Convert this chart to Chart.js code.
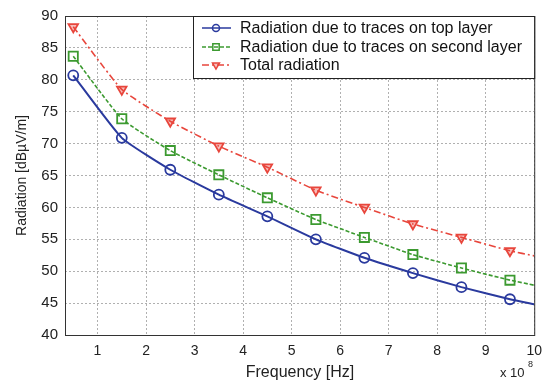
<!DOCTYPE html>
<html>
<head>
<meta charset="utf-8">
<script src="https://cdn.jsdelivr.net/npm/chart.js@4.4.1/dist/chart.umd.min.js"></script>
<style>
  html, body { margin: 0; padding: 0; background: #fff; }
  #wrap { width: 550px; height: 388px; position: relative; }
</style>
</head>
<body>
<div id="wrap"><canvas id="myChart"></canvas></div>
<script>
const ctx = document.getElementById('myChart');

// frequency in units of 1e8 Hz (markers at 0.5..9.5, line runs on to 10)
const freq = [0.5, 1.5, 2.5, 3.5, 4.5, 5.5, 6.5, 7.5, 8.5, 9.5, 10];
const topLayer = [80.7, 70.9, 65.9, 62.0, 58.6, 55.0, 52.1, 49.7, 47.5, 45.6, 44.8];
const secondLayer = [83.7, 73.9, 68.9, 65.1, 61.5, 58.1, 55.3, 52.6, 50.5, 48.6, 47.8];
const totalRad = [88.3, 78.5, 73.5, 69.6, 66.3, 62.7, 60.0, 57.4, 55.3, 53.2, 52.4];
const xTicks = [1, 2, 3, 4, 5, 6, 7, 8, 9, 10];
const seriesNames = [
    'Radiation due to traces on top layer',
    'Radiation due to traces on second layer',
    'Total radiation'
];

const toPts = vals => freq.map((f, i) => ({ x: f, y: vals[i] }));
const radii = r => freq.map(f => f === 10 ? 0 : r);

const FONT = '"Liberation Sans", Arial, sans-serif';

const frameAndLegend = {
    id: 'frameAndLegend',
    afterDraw(chart) {
        const c = chart.ctx;
        const a = chart.chartArea;
        c.save();
        // box round the plot
        c.strokeStyle = '#333';
        c.lineWidth = 1;
        c.strokeRect(a.left + 0.5, a.top + 0.5, a.right - a.left, a.bottom - a.top);

        // legend box, top right inside the plot
        const lx = 193, ly = a.top, lw = a.right - 193, lh = 62;
        c.fillStyle = '#fff';
        c.fillRect(lx, ly, lw, lh);
        c.strokeStyle = '#222';
        c.strokeRect(lx + 0.5, ly + 0.5, lw, lh);
        c.font = '16px ' + FONT;
        c.textBaseline = 'middle';
        const rows = [ly + 12, ly + 31, ly + 49];
        const sizes = [3.5, 4.5, 4];
        chart.data.datasets.forEach((ds, i) => {
            const y = rows[i];
            c.strokeStyle = ds.borderColor;
            c.fillStyle = ds.backgroundColor;
            c.lineWidth = 1.5;
            c.setLineDash(ds.borderDash || []);
            c.beginPath();
            c.moveTo(202, y);
            c.lineTo(231, y);
            c.stroke();
            c.setLineDash([]);
            Chart.helpers.drawPoint(c, {
                pointStyle: ds.pointStyle,
                rotation: ds.pointRotation || 0,
                radius: sizes[i],
                borderWidth: 1.5
            }, 216, y);
            c.fillStyle = '#111';
            c.fillText(seriesNames[i], 240, y + 1);
        });

        // axis titles
        c.fillStyle = '#222';
        c.font = '16px ' + FONT;
        c.textAlign = 'center';
        c.fillText('Frequency [Hz]', 300, 373);
        c.save();
        c.font = '14px ' + FONT;
        c.translate(22, (a.top + a.bottom) / 2);
        c.rotate(-Math.PI / 2);
        c.fillText('Radiation [dBµV/m]', 0, 0);
        c.restore();

        // exponent
        c.textAlign = 'left';
        c.font = '13px ' + FONT;
        c.fillText('x 10', 500, 373);
        c.font = '9px ' + FONT;
        c.fillText('8', 528, 365);
        c.restore();
    }
};

const myChart = new Chart(ctx, {
    type: 'line',
    data: {
        datasets: [
            {
                label: seriesNames[0],
                data: toPts(topLayer),
                borderColor: '#2a3a9e',
                backgroundColor: 'rgba(0,0,0,0)',
                borderWidth: 2,
                pointStyle: 'circle',
                pointRadius: radii(5),
                pointBorderWidth: 1.8,
                tension: 0.15
            },
            {
                label: seriesNames[1],
                data: toPts(secondLayer),
                borderColor: '#3c9a30',
                backgroundColor: 'rgba(0,0,0,0)',
                borderWidth: 1.6,
                borderDash: [4, 2],
                pointStyle: 'rect',
                pointRadius: radii(6.5),
                pointBorderWidth: 1.8,
                tension: 0.15
            },
            {
                label: seriesNames[2],
                data: toPts(totalRad),
                borderColor: '#e8463c',
                backgroundColor: 'rgba(232,70,60,0.35)',
                borderWidth: 1.6,
                borderDash: [7, 3, 2, 3],
                pointStyle: 'triangle',
                pointRotation: 180,
                pointRadius: radii(5.5),
                pointBorderWidth: 1.8,
                tension: 0.15
            }
        ]
    },
    options: {
        responsive: true,
        maintainAspectRatio: false,
        animation: false,
        layout: {
            padding: { top: 13, right: 12, left: 0, bottom: 0 }
        },
        scales: {
            x: {
                type: 'linear',
                min: 0.33,
                max: 10,
                afterBuildTicks: s => { s.ticks = xTicks.map(v => ({ value: v })); },
                afterFit: s => { s.height = 53; },
                grid: {
                    color: '#b0b0b0',
                    drawTicks: false
                },
                border: { display: false, dash: [2, 2] },
                ticks: {
                    color: '#222',
                    padding: 8,
                    maxRotation: 0,
                    font: { family: FONT, size: 14 }
                }
            },
            y: {
                min: 40,
                max: 90,
                afterFit: s => { s.width = 65; },
                grid: {
                    color: '#b0b0b0',
                    drawTicks: false
                },
                border: { display: false, dash: [2, 2] },
                ticks: {
                    stepSize: 5,
                    color: '#222',
                    padding: 7,
                    font: { family: FONT, size: 15 }
                }
            }
        },
        plugins: {
            legend: { display: false },
            tooltip: { enabled: false }
        }
    },
    plugins: [frameAndLegend]
});
</script>
</body>
</html>
